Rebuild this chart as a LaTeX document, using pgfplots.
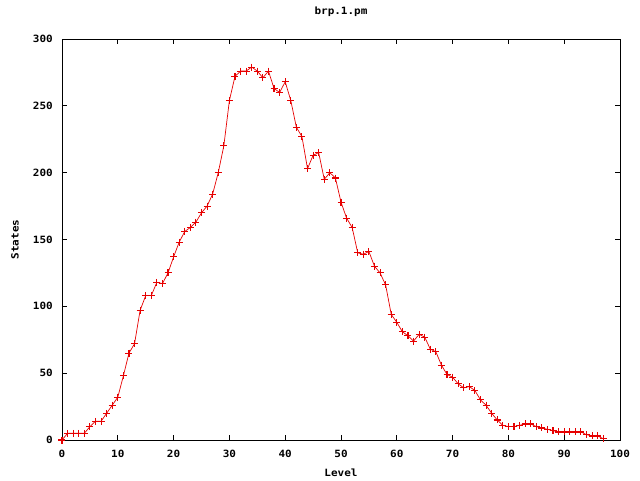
\documentclass[border=0pt]{standalone}
\usepackage{fontspec}
\setmainfont{DejaVu Sans Mono}[FakeStretch=1.1,UprightFont=*-Bold]
\usepackage{pgfplots}
\pgfplotsset{compat=1.18}
\pgfplotstableread{
x y
0 0
1 5
2 5
3 5
4 5
5 10
6 14
7 14
8 20
9 26
10 32
11 48
12 65
13 72
14 97
15 108
16 108
17 118
18 117
19 125
20 137
21 148
22 156
23 159
24 163
25 170
26 175
27 184
28 200
29 220
30 254
31 272
32 276
33 276
34 279
35 276
36 271
37 276
38 263
39 260
40 268
41 254
42 234
43 227
44 203
45 213
46 215
47 195
48 200
49 196
50 178
51 166
52 159
53 140
54 139
55 141
56 130
57 125
58 116
59 94
60 88
61 81
62 78
63 74
64 79
65 77
66 68
67 66
68 56
69 49
70 47
71 42
72 39
73 40
74 37
75 30
76 26
77 20
78 15
79 11
80 10
81 10
82 11
83 12
84 12
85 10
86 9
87 8
88 7
89 6
90 6
91 6
92 6
93 6
94 4
95 3
96 3
97 1
}\brpdata
\definecolor{gpred}{RGB}{230,0,0}
\begin{document}
\begin{tikzpicture}
\path[use as bounding box] (-62pt,-40pt) rectangle (578pt,440pt);
\begin{axis}[
  at={(0,0)}, anchor=south west,
  scale only axis,
  width=558pt, height=401pt,
  xmin=0, xmax=100, ymin=0, ymax=300,
  xtick={0,10,...,100}, ytick={0,50,...,300},
  minor tick num=0,
  tick align=inside,
  major tick length=5pt,
  axis line style={line width=0.8pt},
  tick style={black, line width=0.8pt},
  /pgf/number format/assume math mode=true,
  tick label style={font=\fontsize{10}{12}\selectfont},
  xticklabel style={anchor=center, yshift=-14pt},
  yticklabel style={anchor=east, inner sep=0pt, xshift=-9pt},
  title={brp.1.pm},
  title style={at={(axis description cs:0.5,1.0524)}, anchor=center, font=\fontsize{10}{12}\selectfont},
  xlabel={Level},
  xlabel style={at={(axis description cs:0.5,-0.0823)}, anchor=center, font=\fontsize{10}{12}\selectfont},
  ylabel={States},
  ylabel style={at={(axis description cs:-0.0842,0.5)}, anchor=center, font=\fontsize{10}{12}\selectfont},
]
\addplot[draw=gpred, line width=0.7pt, mark=+, mark size=3.5pt, mark options={draw=gpred, solid, line width=1.1pt}] table[x=x,y=y] {\brpdata};
\end{axis}
\end{tikzpicture}
\end{document}
